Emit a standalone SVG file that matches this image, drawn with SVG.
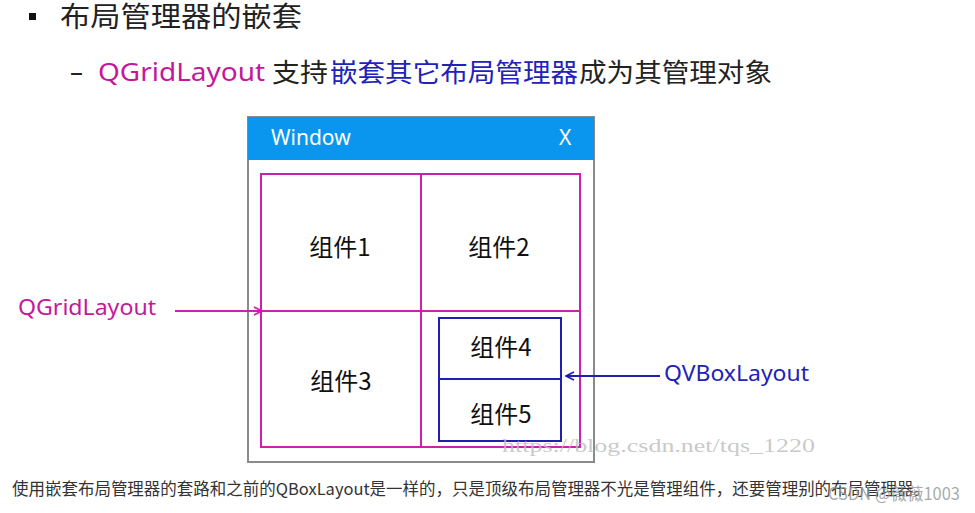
<svg xmlns="http://www.w3.org/2000/svg" width="975" height="513" viewBox="0 0 975 513">
<style>
text{font-family:"Noto Sans","Noto Sans CJK SC",sans-serif;}
.cjk{font-family:"Noto Sans CJK SC","Noto Sans",sans-serif;}
.dark{fill:#222;}
.mag{fill:#c4189c;}
.blu{fill:#2222b8;}
.cell{font-size:24px;fill:#111;text-anchor:middle;}
.gridline{fill:none;stroke:#cc22aa;stroke-width:2;}
.boxline{fill:none;stroke:#2020b0;stroke-width:2;}
</style>
<defs>
<marker id="amag" viewBox="0 0 10 10" refX="9" refY="5" markerWidth="10" markerHeight="10" markerUnits="userSpaceOnUse" orient="auto">
<path d="M1,1 L9,5 L1,9" fill="none" stroke="#cc22aa" stroke-width="1.6"/>
</marker>
<marker id="ablu" viewBox="0 0 10 10" refX="9" refY="5" markerWidth="10" markerHeight="10" markerUnits="userSpaceOnUse" orient="auto">
<path d="M1,1 L9,5 L1,9" fill="none" stroke="#2020b0" stroke-width="1.6"/>
</marker>
</defs>
<rect width="975" height="513" fill="#fff"/>

<g id="heading">
<rect x="29" y="13" width="7" height="7" fill="#111"/>
<text x="60" y="27" class="cjk dark" font-size="28" textLength="242" lengthAdjust="spacingAndGlyphs">布局管理器的嵌套</text>
</g>

<g id="subheading" font-size="26">
<text x="70" y="81" class="dark">–</text>
<text x="98" y="81" class="mag" textLength="167" lengthAdjust="spacingAndGlyphs">QGridLayout</text>
<text x="272" y="82" class="cjk dark" textLength="56" lengthAdjust="spacingAndGlyphs">支持</text>
<text x="330" y="82" class="cjk blu" textLength="248" lengthAdjust="spacingAndGlyphs">嵌套其它布局管理器</text>
<text x="579" y="82" class="cjk dark" textLength="193" lengthAdjust="spacingAndGlyphs">成为其管理对象</text>
</g>

<g id="window">
<rect x="248" y="117" width="346" height="345" fill="#fff" stroke="#8a8a8a" stroke-width="2"/>
<rect x="248" y="117" width="346" height="43" fill="#0a96ee"/>
<text x="271" y="145" font-size="21" fill="#fff">Window</text>
<text x="559" y="145" font-size="21" fill="#fff">X</text>
</g>

<g id="grid">
<rect x="261" y="174" width="319" height="273" class="gridline"/>
<line x1="421" y1="174" x2="421" y2="447" class="gridline"/>
<line x1="261" y1="311" x2="580" y2="311" class="gridline"/>
</g>

<g id="cell1"><text x="340" y="256" class="cell cjk">组件1</text></g>
<g id="cell2"><text x="499" y="256" class="cell cjk">组件2</text></g>
<g id="cell3"><text x="341" y="390" class="cell cjk">组件3</text></g>

<g id="vbox">
<rect x="439" y="318" width="122" height="123" class="boxline"/>
<line x1="439" y1="379" x2="561" y2="379" class="boxline"/>
</g>
<g id="cell4"><text x="501" y="356" class="cell cjk">组件4</text></g>
<g id="cell5"><text x="501" y="423" class="cell cjk">组件5</text></g>

<g id="label-grid"><text x="18" y="315" font-size="22" class="mag" textLength="138" lengthAdjust="spacingAndGlyphs">QGridLayout</text></g>
<g id="label-vbox"><text x="664" y="381" font-size="22" class="blu" textLength="145" lengthAdjust="spacingAndGlyphs">QVBoxLayout</text></g>

<g id="connectors">
<line x1="175" y1="311" x2="262" y2="311" stroke="#cc22aa" stroke-width="2" marker-end="url(#amag)"/>
<line x1="660" y1="376" x2="566" y2="376" stroke="#2020b0" stroke-width="2" marker-end="url(#ablu)"/>
</g>

<g id="caption">
<text x="12" y="495" font-size="16.5" fill="#333" class="cjk" textLength="918" lengthAdjust="spacingAndGlyphs">使用嵌套布局管理器的套路和之前的QBoxLayout是一样的，只是顶级布局管理器不光是管理组件，还要管理别的布局管理器。</text>
</g>

<g id="watermarks">
<text x="502" y="452" font-size="19" fill="#bbb" fill-opacity="0.8" style="font-family:'Liberation Serif',serif" textLength="313" lengthAdjust="spacingAndGlyphs">https://blog.csdn.net/tqs_1220</text>
<text x="828" y="500" font-size="17" fill="#999" fill-opacity="0.85" class="cjk" textLength="132" lengthAdjust="spacingAndGlyphs">CSDN @薇薇1003</text>
</g>
</svg>
